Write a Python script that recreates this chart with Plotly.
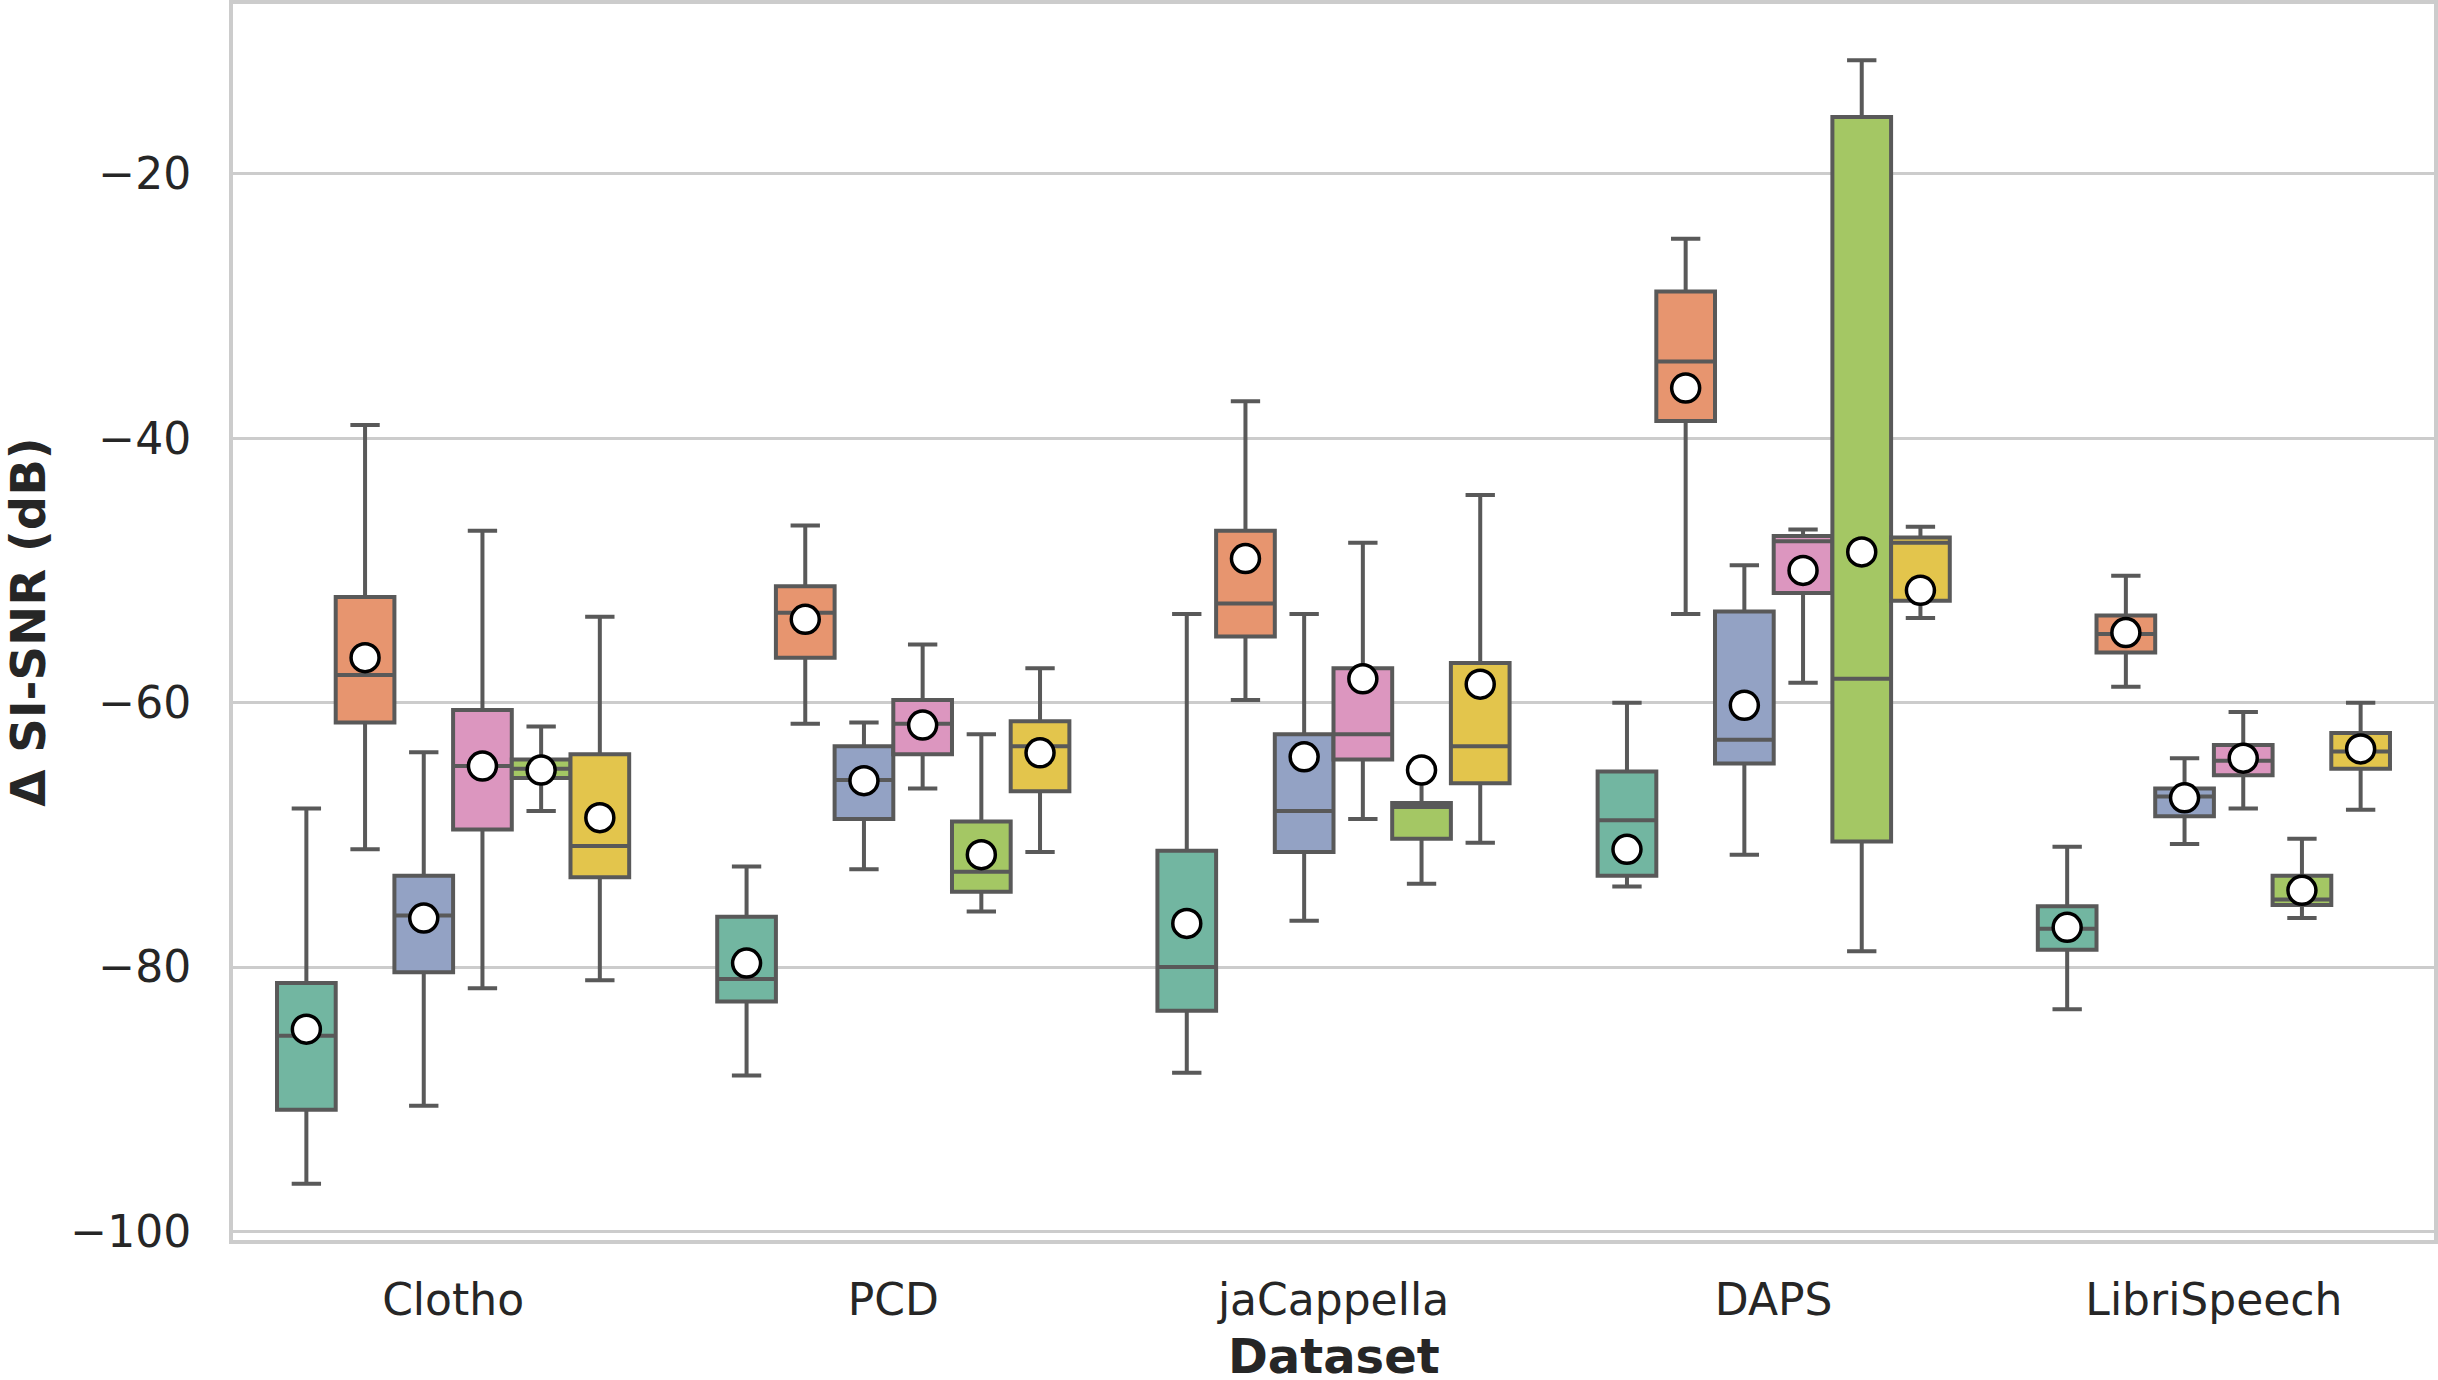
import plotly.graph_objects as go

DATASETS = ["Clotho", "PCD", "jaCappella", "DAPS", "LibriSpeech"]
GROUPS = ["Group 1", "Group 2", "Group 3", "Group 4", "Group 5", "Group 6"]

# per group (hue), values for each dataset in DATASETS order
WHISKER_LO = [
    [-96.4, -88.2, -88.0, -73.9, -83.2],
    [-71.1, -61.6, -59.8, -53.3, -58.8],
    [-90.5, -72.6, -76.5, -71.5, -70.7],
    [-81.6, -66.5, -68.8, -58.5, -68.0],
    [-68.2, -75.8, -73.7, -78.8, -76.3],
    [-81.0, -71.3, -70.6, -53.6, -68.1],
]
Q1 = [
    [-90.8, -82.6, -83.3, -73.1, -78.7],
    [-61.5, -56.6, -55.0, -38.7, -56.2],
    [-80.4, -68.8, -71.3, -64.6, -68.6],
    [-69.6, -63.9, -64.3, -51.7, -65.5],
    [-65.7, -74.3, -70.3, -70.5, -75.3],
    [-73.2, -66.7, -66.1, -52.3, -65.0],
]
MEDIAN = [
    [-85.2, -80.9, -80.0, -68.9, -77.1],
    [-57.9, -53.2, -52.5, -34.2, -54.8],
    [-76.1, -65.85, -68.2, -62.8, -67.1],
    [-64.8, -61.6, -62.4, -47.8, -64.4],
    [-65.0, -72.8, -67.9, -58.2, -74.9],
    [-70.85, -63.3, -63.3, -47.9, -63.7],
]
Q3 = [
    [-81.2, -76.2, -71.2, -65.2, -75.4],
    [-52.0, -51.2, -47.0, -28.9, -53.4],
    [-73.1, -63.3, -62.4, -53.1, -66.5],
    [-60.55, -59.8, -57.4, -47.4, -63.2],
    [-64.3, -69.0, -67.6, -15.7, -73.1],
    [-63.9, -61.4, -57.0, -47.5, -62.3],
]
WHISKER_HI = [
    [-68.0, -72.4, -53.3, -60.0, -70.9],
    [-39.0, -46.6, -37.2, -24.9, -50.4],
    [-63.75, -61.5, -53.3, -49.6, -64.2],
    [-47.0, -55.6, -47.9, -46.9, -60.7],
    [-61.8, -62.4, -65.2, -11.4, -70.3],
    [-53.5, -57.4, -44.3, -46.7, -60.0],
]
MEAN = [
    [-84.7, -79.7, -76.7, -71.1, -77.0],
    [-56.6, -53.7, -49.1, -36.2, -54.7],
    [-76.3, -65.9, -64.1, -60.2, -67.2],
    [-64.8, -61.7, -58.2, -50.0, -64.2],
    [-65.1, -71.5, -65.1, -48.6, -74.2],
    [-68.7, -63.8, -58.6, -51.5, -63.5],
]
Y_TICKS = [-100, -80, -60, -40, -20]

COLORS = ["#72b6a1", "#e7956f", "#93a2c4", "#dc96bf", "#a4c764", "#e3c54c"]
EDGE = "#595959"
FONT = "DejaVu Sans"
TEXT = "#262626"

n = len(GROUPS)
group_width = 0.8
bw = group_width / n

fig = go.Figure()
positions = []
for k in range(n):
    off = (k - (n - 1) / 2) * bw
    xs = [i + off for i in range(len(DATASETS))]
    positions.append(xs)
    fig.add_trace(go.Box(
        x=xs, q1=Q1[k], median=MEDIAN[k], q3=Q3[k],
        lowerfence=WHISKER_LO[k], upperfence=WHISKER_HI[k],
        name=GROUPS[k], width=bw, whiskerwidth=0.5,
        fillcolor=COLORS[k], line=dict(color=EDGE, width=4),
        boxpoints=False, showlegend=False, hoverinfo="skip",
    ))
for k in range(n):
    fig.add_trace(go.Scatter(
        x=positions[k], y=MEAN[k], mode="markers",
        marker=dict(color="white", size=28, line=dict(color="black", width=3.5)),
        showlegend=False, hoverinfo="skip",
    ))

fig.update_layout(
    width=2438, height=1380,
    margin=dict(l=233, r=4, t=4, b=140),
    paper_bgcolor="white", plot_bgcolor="white",
    font=dict(family=FONT, size=44, color=TEXT),
    annotations=[dict(
        text="<b>Dataset</b>", xref="paper", yref="paper", x=0.5, y=0,
        xanchor="center", yanchor="middle", yshift=-116, showarrow=False,
        font=dict(size=48, color=TEXT, family=FONT),
    )],
)
fig.update_xaxes(
    range=[-0.5, len(DATASETS) - 0.5],
    tickvals=list(range(len(DATASETS))), ticktext=DATASETS,
    showgrid=False, zeroline=False, automargin=False,
    showline=True, mirror=True, linecolor="#cccccc", linewidth=4,
    ticks="", ticklabelstandoff=18,
)
fig.update_yaxes(
    range=[-100.65, -7.15],
    tickvals=Y_TICKS, automargin=False,
    showgrid=True, gridcolor="#cccccc", gridwidth=2.5, zeroline=False,
    showline=True, mirror=True, linecolor="#cccccc", linewidth=4,
    ticks="", ticklabelstandoff=29,
    title=dict(text="<b>Δ SI-SNR (dB)</b>", font=dict(size=48, color=TEXT), standoff=34),
)
fig.write_html("out.html")
